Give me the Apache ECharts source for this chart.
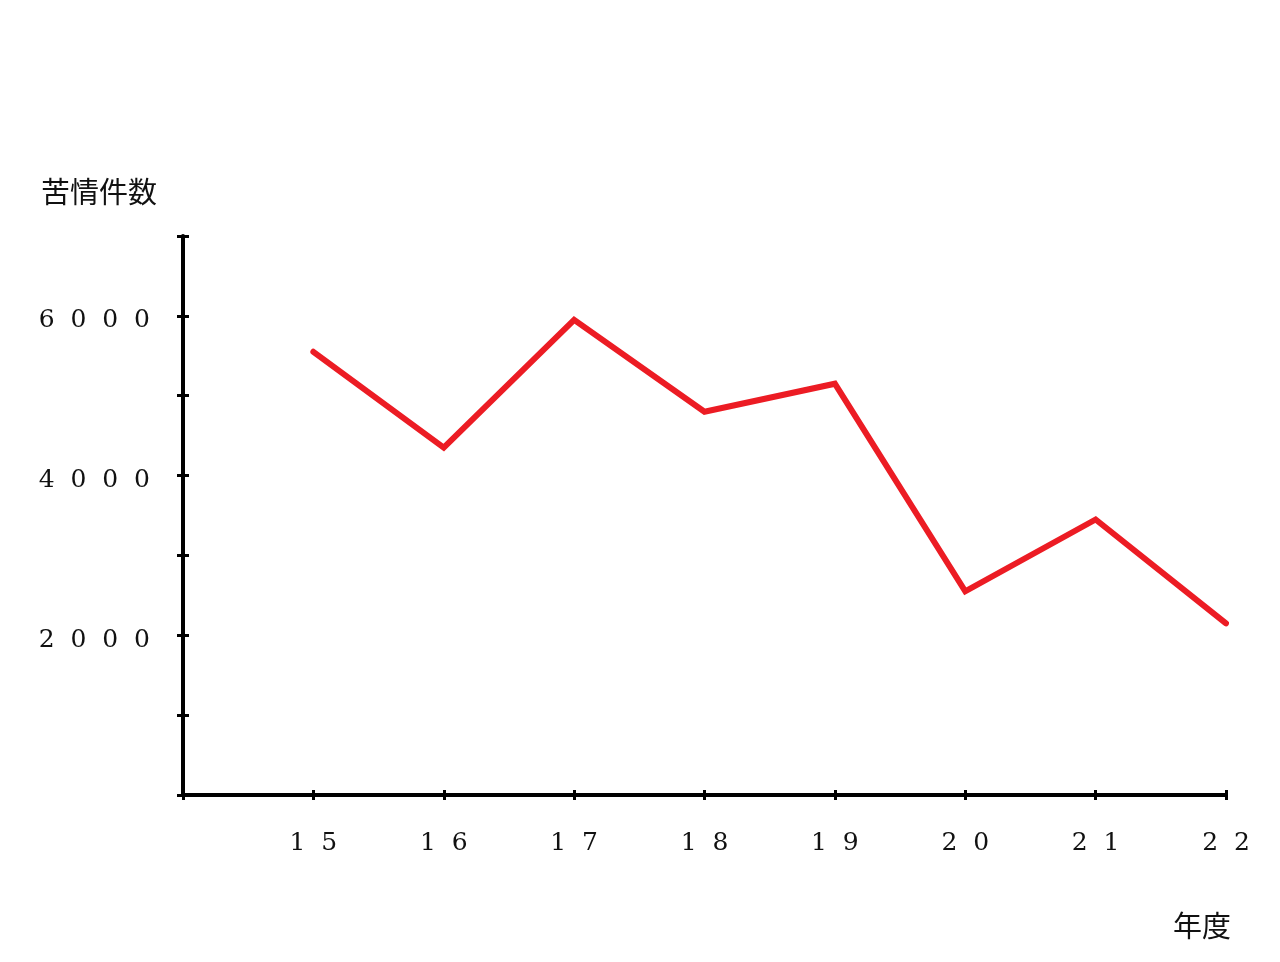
<!DOCTYPE html>
<html>
<head>
<meta charset="utf-8">
<script src="https://cdn.jsdelivr.net/npm/echarts@6/dist/echarts.min.js"></script>
<style>html,body{margin:0;padding:0;background:#fff}#c{width:1280px;height:962px}</style>
</head>
<body>
<div id="c"></div>
<script>
const years = [15, 16, 17, 18, 19, 20, 21, 22];
const complaints = [5550, 4350, 5950, 4800, 5150, 2550, 3450, 2150];
const yLabelValues = [2000, 4000, 6000];
const yTitle = '苦情件数';
const xTitle = '年度';

const spaced = s => String(s).split('').join('  ');
const serif = "'DejaVu Serif', 'Liberation Serif', serif";
const cjk = "'Noto Sans CJK JP', sans-serif";

const chart = echarts.init(document.getElementById('c'));
const grid = { left: 183, right: 54, top: 236, bottom: 167 };
const xCommon = { type: 'value', min: 14, max: 22, interval: 1, gridIndex: 0 };
const yCommon = { type: 'value', min: 0, max: 7000, interval: 1000, gridIndex: 0 };
chart.setOption({
  animation: false,
  backgroundColor: '#ffffff',
  title: [
    { text: yTitle, left: 36, top: 172, textStyle: { fontFamily: cjk, fontSize: 29, fontWeight: 'normal', color: '#111' } },
    { text: xTitle, left: 1168, top: 906, textStyle: { fontFamily: cjk, fontSize: 29, fontWeight: 'normal', color: '#111' } }
  ],
  grid: grid,
  xAxis: [
    Object.assign({}, xCommon, {
      position: 'bottom',
      axisLine: { show: true, lineStyle: { color: '#000', width: 4 } },
      axisTick: { show: true, length: 5, lineStyle: { color: '#000', width: 3 } },
      splitLine: { show: false },
      axisLabel: {
        margin: 36, fontFamily: serif, fontSize: 25, color: '#111',
        formatter: v => years.includes(v) ? spaced(v) : ''
      }
    }),
    Object.assign({}, xCommon, {
      position: 'bottom',
      axisLine: { show: false },
      axisTick: { show: true, inside: true, length: 5, lineStyle: { color: '#000', width: 3 } },
      splitLine: { show: false },
      axisLabel: { show: false }
    })
  ],
  yAxis: [
    Object.assign({}, yCommon, {
      position: 'left',
      axisLine: { show: true, lineStyle: { color: '#000', width: 4 } },
      axisTick: { show: true, length: 6, lineStyle: { color: '#000', width: 3 } },
      splitLine: { show: false },
      axisLabel: {
        margin: 33, fontFamily: serif, fontSize: 25, color: '#111',
        verticalAlign: 'top', lineHeight: 10,
        formatter: v => yLabelValues.includes(v) ? spaced(v) : ''
      }
    }),
    Object.assign({}, yCommon, {
      position: 'left',
      axisLine: { show: false },
      axisTick: { show: true, inside: true, length: 6, lineStyle: { color: '#000', width: 3 } },
      splitLine: { show: false },
      axisLabel: { show: false }
    })
  ],
  series: [{
    type: 'line',
    xAxisIndex: 0,
    yAxisIndex: 0,
    data: years.map((y, i) => [y, complaints[i]]),
    showSymbol: false,
    symbol: 'none',
    lineStyle: { color: '#ec1c24', width: 6, cap: 'round', join: 'miter' }
  }]
});
</script>
</body>
</html>
